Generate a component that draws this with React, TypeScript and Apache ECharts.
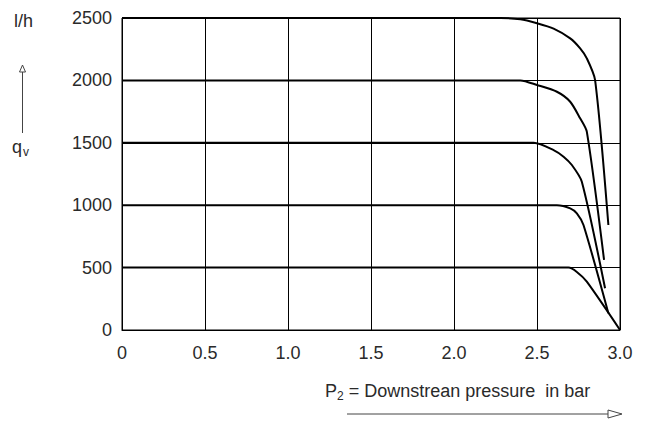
import React, { useEffect, useRef } from "react";
import * as echarts from "echarts";

const xTickLabels = ["0", "0.5", "1.0", "1.5", "2.0", "2.5", "3.0"];
const yTickLabels = ["0", "500", "1000", "1500", "2000", "2500"];

const curve2500: [number, number][] = [
  [0, 2500], [2.28, 2500], [2.4, 2490], [2.5, 2458], [2.6, 2415], [2.7, 2337],
  [2.76, 2257], [2.8, 2177], [2.85, 2003], [2.93, 841],
];
const curve2000: [number, number][] = [
  [0, 2000], [2.4, 2000], [2.5, 1963], [2.62, 1909], [2.7, 1829], [2.76, 1696],
  [2.8, 1589], [2.904, 561],
];
const curve1500: [number, number][] = [
  [0, 1500], [2.48, 1500], [2.6, 1442], [2.66, 1389], [2.71, 1322], [2.77, 1188],
  [2.91, 334],
];
const curve1000: [number, number][] = [
  [0, 1000], [2.62, 1000], [2.7, 975], [2.74, 935], [2.78, 841], [2.93, 134],
];
const curve500: [number, number][] = [
  [0, 500], [2.69, 500], [2.74, 465], [2.8, 387], [3.0, 0],
];

const curves = [curve2500, curve2000, curve1500, curve1000, curve500];

const FONT = "'Liberation Sans', Arial, sans-serif";
const TXT = "#2a2a2a";
const FS = 18;

export default function App() {
  const ref = useRef<HTMLDivElement>(null);
  useEffect(() => {
    if (!ref.current) return;
    const chart = echarts.init(ref.current, null, { renderer: "svg" });
    chart.setOption({
      animation: false,
      backgroundColor: "#fff",
      grid: {
        left: 122, right: 26, top: 18, bottom: 92,
        show: true, borderColor: "#000", borderWidth: 1, backgroundColor: "transparent",
      },
      xAxis: {
        type: "value", min: 0, max: 3, interval: 0.5,
        axisLine: { show: true, lineStyle: { color: "#000", width: 1 } },
        axisTick: { show: false },
        splitLine: { show: true, lineStyle: { color: "#000", width: 1 } },
        axisLabel: {
          margin: 14, color: TXT, fontSize: FS, fontFamily: FONT,
          formatter: (v: number) => xTickLabels[Math.round(v / 0.5)] ?? "",
        },
      },
      yAxis: {
        type: "value", min: 0, max: 2500, interval: 500,
        axisLine: { show: true, lineStyle: { color: "#000", width: 1 } },
        axisTick: { show: false },
        splitLine: { show: true, lineStyle: { color: "#000", width: 1 } },
        axisLabel: {
          margin: 10, color: TXT, fontSize: FS, fontFamily: FONT,
          formatter: (v: number) => yTickLabels[Math.round(v / 500)] ?? "",
        },
      },
      series: curves.map((c) => ({
        type: "line", data: c, showSymbol: false, smooth: 0.25,
        lineStyle: { color: "#000", width: 2 }, z: 5,
      })),
      graphic: [
        {
          type: "text", x: 14, y: 21,
          style: { text: "l/h", fontSize: FS, fontFamily: FONT, fill: TXT, verticalAlign: "middle" },
        },
        {
          type: "line", shape: { x1: 22.5, y1: 133, x2: 22.5, y2: 72 },
          style: { stroke: "#444", lineWidth: 1 },
        },
        {
          type: "polygon", shape: { points: [[22.5, 65], [19.5, 72], [25.5, 72]] },
          style: { stroke: "#444", fill: "#fff", lineWidth: 1 },
        },
        {
          type: "text", x: 12, y: 147,
          style: {
            text: "{a|q}{b|v}", fontFamily: FONT, fill: TXT, verticalAlign: "middle",
            rich: {
              a: { fontSize: FS, fontFamily: FONT, fill: TXT },
              b: { fontSize: 12, fontFamily: FONT, fill: TXT, padding: [10, 0, 0, 1] },
            },
          },
        },
        {
          type: "text", x: 325, y: 391,
          style: {
            text: "{a|P}{b|2}{a| = Downstrean pressure  in bar}", fontFamily: FONT, fill: TXT,
            verticalAlign: "middle",
            rich: {
              a: { fontSize: FS, fontFamily: FONT, fill: TXT },
              b: { fontSize: 12, fontFamily: FONT, fill: TXT, padding: [9, 0, 0, 0] },
            },
          },
        },
        {
          type: "line", shape: { x1: 347, y1: 414, x2: 608, y2: 414 },
          style: { stroke: "#444", lineWidth: 1 },
        },
        {
          type: "polygon", shape: { points: [[608, 410], [622, 414], [608, 418]] },
          style: { stroke: "#444", fill: "#fff", lineWidth: 1 },
        },
      ],
    });
    return () => chart.dispose();
  }, []);
  return (
    <div
      ref={ref}
      style={{ position: "fixed", left: 0, top: 0, width: 646, height: 422, background: "#fff" }}
    />
  );
}
